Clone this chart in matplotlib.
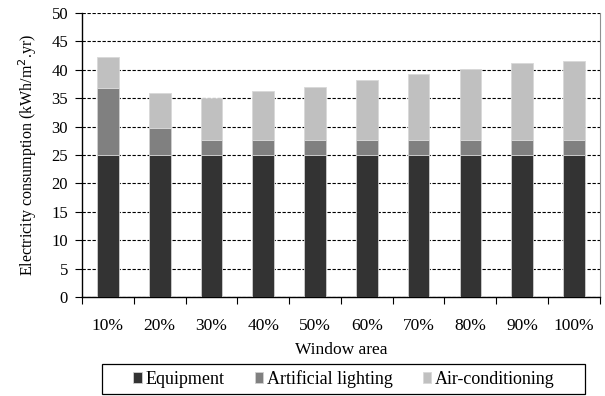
import matplotlib
matplotlib.use("Agg")
import matplotlib.pyplot as plt
from matplotlib.patches import Rectangle
import numpy as np

plt.rcParams['font.family'] = ['Liberation Serif', 'DejaVu Serif']

categories = ["10%", "20%", "30%", "40%", "50%", "60%", "70%", "80%", "90%", "100%"]
equipment = [25, 25, 25, 25, 25, 25, 25, 25, 25, 25]
lighting = [11.8, 4.7, 2.7, 2.7, 2.7, 2.7, 2.7, 2.7, 2.7, 2.7]
air_cond = [5.4, 6.3, 7.4, 8.5, 9.2, 10.5, 11.5, 12.5, 13.5, 13.9]

fig = plt.figure(figsize=(6.05, 3.96), dpi=100)
ax = fig.add_axes([0.1355, 0.25, 0.856, 0.717])

x = np.arange(len(categories))
w = 0.42
ax.bar(x, equipment, w, color='#333333', edgecolor='#d0d0d0', linewidth=0.6, label='Equipment', zorder=3)
ax.bar(x, lighting, w, bottom=equipment, color='#808080', edgecolor='#d0d0d0', linewidth=0.6,
       label='Artificial lighting', zorder=3)
bottom2 = [e + l for e, l in zip(equipment, lighting)]
ax.bar(x, air_cond, w, bottom=bottom2, color='#c0c0c0', edgecolor='#d8d8d8', linewidth=0.6,
       label='Air-conditioning', zorder=3)

ax.set_xlim(-0.5, len(categories) - 0.5)
ax.set_ylim(0, 50)
ax.set_yticks(range(0, 51, 5))
ax.set_xticks(x)
ax.set_xticklabels(categories, fontsize=12.5)
ax.set_xticks(np.arange(-0.5, len(categories), 1), minor=True)
ax.tick_params(axis='x', which='major', length=0, pad=15)
ax.tick_params(axis='x', which='minor', length=5, direction='out', width=0.8)
ax.tick_params(axis='y', labelsize=12, length=5, direction='out', width=0.8, pad=5)

ax.yaxis.grid(True, linestyle=(0, (3, 1.5)), color='black', linewidth=0.8, zorder=0)
ax.set_axisbelow(True)
ax.spines['top'].set_visible(False)
ax.spines['right'].set_color('#909090')
ax.spines['left'].set_linewidth(1.0)
ax.spines['bottom'].set_linewidth(1.0)

ax.set_xlabel("Window area", fontsize=12.5, labelpad=6)
ax.set_ylabel("Electricity consumption (kWh/m$^2$.yr)", fontsize=11.5, labelpad=9)

leg = fig.legend(*ax.get_legend_handles_labels(), loc='center', bbox_to_anchor=(0.5686, 0.0429),
                 ncol=3, fontsize=13, frameon=False, handlelength=0.45, handleheight=0.6,
                 handletextpad=0.2, columnspacing=1.7, borderpad=0.0)

# legend box
fig.patches.append(Rectangle((102 / 605, 1 - 394 / 396), 483 / 605, 30 / 396,
                             transform=fig.transFigure, fill=False, edgecolor='black',
                             linewidth=0.9))

fig.savefig("out.png", dpi=100)
